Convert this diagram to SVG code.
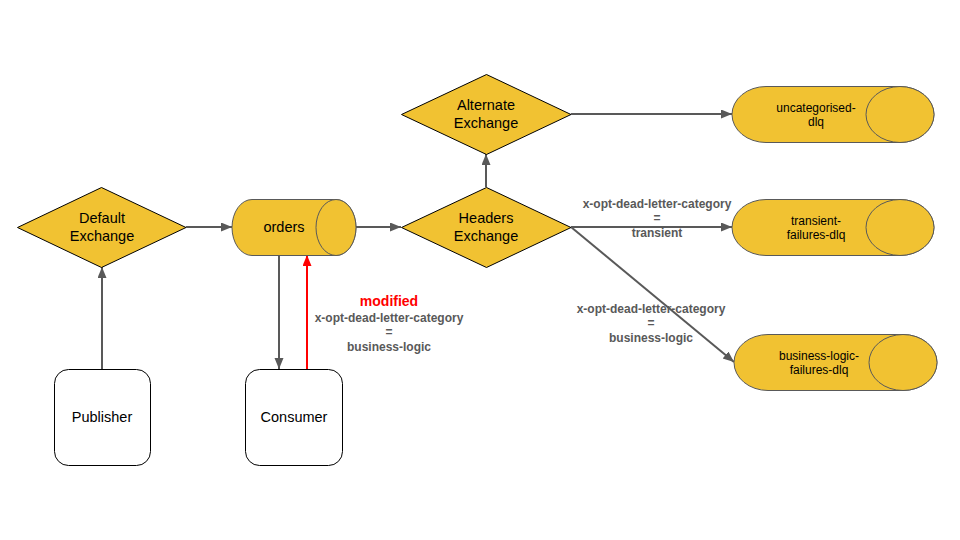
<svg xmlns="http://www.w3.org/2000/svg" width="960" height="540" viewBox="0 0 960 540">
<style>
.dia{fill:#f1c232;stroke:#000;stroke-width:1}
.cyl{fill:#f1c232;stroke:#595959;stroke-width:1}
.box{fill:#fff;stroke:#000;stroke-width:1}
.t{font-family:"Liberation Sans",Arial,sans-serif;fill:#000;text-anchor:middle}
.t14{font-size:14.5px}
.t12{font-size:12px}
.lbl{font-family:"Liberation Sans",Arial,sans-serif;font-size:12px;font-weight:bold;fill:#595959;text-anchor:middle}
.red{font-family:"Liberation Sans",Arial,sans-serif;font-size:14px;font-weight:bold;fill:#ff0000;text-anchor:middle}
.c{stroke:#595959;stroke-width:2;fill:none;marker-end:url(#ah)}
.cr{stroke:#ff0000;stroke-width:2;fill:none;marker-end:url(#ahr)}
</style>
<defs>
<marker id="ah" markerUnits="userSpaceOnUse" markerWidth="12" markerHeight="10" refX="11" refY="4.5" orient="auto">
<path d="M0,0 L11,4.5 L0,9 Z" fill="#595959"/>
</marker>
<marker id="ahr" markerUnits="userSpaceOnUse" markerWidth="12" markerHeight="10" refX="11" refY="4.5" orient="auto">
<path d="M0,0 L11,4.5 L0,9 Z" fill="#ff0000"/>
</marker>
</defs>
<rect width="960" height="540" fill="#fff"/>
<g id="connectors">
<line class="c" x1="102" y1="369" x2="102" y2="267"/>
<line class="c" x1="186" y1="227" x2="232" y2="227"/>
<line class="c" x1="356" y1="227" x2="401" y2="227"/>
<line class="c" x1="486" y1="187" x2="486" y2="154"/>
<line class="c" x1="571" y1="114" x2="732" y2="114"/>
<line class="c" x1="571" y1="227" x2="732" y2="227"/>
<line class="c" x1="571" y1="227" x2="734" y2="362"/>
<line class="c" x1="279" y1="255" x2="279" y2="369"/>
<line class="cr" x1="307" y1="369" x2="307" y2="255"/>
<text class="lbl" x="657" y="208">x-opt-dead-letter-category</text>
<text class="lbl" x="657" y="222">=</text>
<text class="lbl" x="657" y="237">transient</text>
<text class="lbl" x="651" y="313">x-opt-dead-letter-category</text>
<text class="lbl" x="651" y="327">=</text>
<text class="lbl" x="651" y="342">business-logic</text>
<text class="red" x="389" y="306">modified</text>
<text class="lbl" x="389" y="322">x-opt-dead-letter-category</text>
<text class="lbl" x="389" y="336">=</text>
<text class="lbl" x="389" y="351">business-logic</text>
</g>
<g id="publisher">
<rect class="box" x="54.5" y="369.5" width="96" height="96" rx="14"/>
<text class="t t14" x="102" y="422">Publisher</text>
</g>
<g id="consumer">
<rect class="box" x="245.5" y="369.5" width="97" height="96" rx="14"/>
<text class="t t14" x="294" y="422">Consumer</text>
</g>
<g id="default-exchange">
<polygon class="dia" points="17.5,227.5 101.5,187.5 186,227.5 101.5,267.5"/>
<text class="t t14" x="102" y="223">Default</text>
<text class="t t14" x="102" y="241">Exchange</text>
</g>
<g id="orders">
<path class="cyl" d="M252,199.5 H336 A20,28 0 0 1 336,255.5 H252 A20,28 0 0 1 252,199.5 Z"/>
<ellipse class="cyl" cx="336" cy="227.5" rx="20" ry="28"/>
<text class="t t14" x="284" y="232">orders</text>
</g>
<g id="headers-exchange">
<polygon class="dia" points="401.5,227.5 486.5,187.5 571,227.5 486.5,267.5"/>
<text class="t t14" x="486" y="223">Headers</text>
<text class="t t14" x="486" y="241">Exchange</text>
</g>
<g id="alternate-exchange">
<polygon class="dia" points="401.5,114.5 486.5,74.5 571,114.5 486.5,154.5"/>
<text class="t t14" x="486" y="110">Alternate</text>
<text class="t t14" x="486" y="128">Exchange</text>
</g>
<g id="uncategorised-dlq">
<path class="cyl" d="M766,86.5 H900 A34,28 0 0 1 900,142.5 H766 A34,28 0 0 1 766,86.5 Z"/>
<ellipse class="cyl" cx="900" cy="114.5" rx="34" ry="28"/>
<text class="t t12" x="816" y="112">uncategorised-</text>
<text class="t t12" x="816" y="126">dlq</text>
</g>
<g id="transient-failures-dlq">
<path class="cyl" d="M766,199.5 H900 A34,28 0 0 1 900,255.5 H766 A34,28 0 0 1 766,199.5 Z"/>
<ellipse class="cyl" cx="900" cy="227.5" rx="34" ry="28"/>
<text class="t t12" x="816" y="225">transient-</text>
<text class="t t12" x="816" y="239">failures-dlq</text>
</g>
<g id="business-logic-failures-dlq">
<path class="cyl" d="M768,334.5 H903 A34,28 0 0 1 903,390.5 H768 A34,28 0 0 1 768,334.5 Z"/>
<ellipse class="cyl" cx="903" cy="362.5" rx="34" ry="28"/>
<text class="t t12" x="819" y="360">business-logic-</text>
<text class="t t12" x="819" y="374">failures-dlq</text>
</g>
</svg>
